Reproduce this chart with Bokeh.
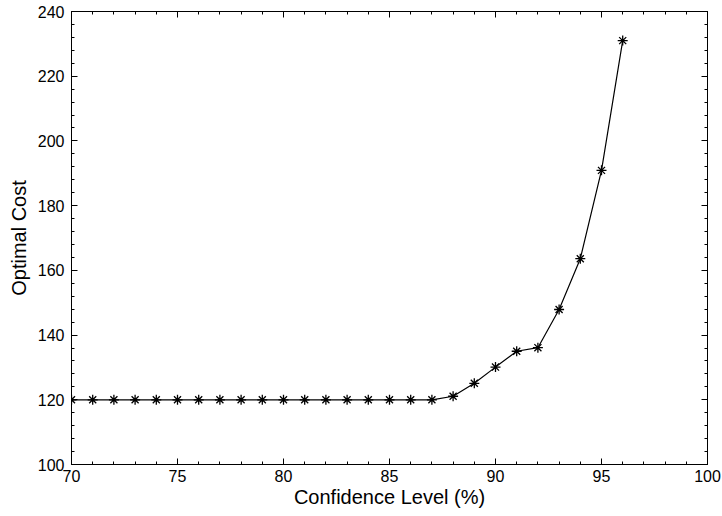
from bokeh.plotting import figure
from bokeh.models import Range1d, LinearAxis, SingleIntervalTicker
from bokeh.embed import file_html
from bokeh.resources import INLINE

confidence = [70, 71, 72, 73, 74, 75, 76, 77, 78, 79, 80, 81, 82, 83, 84, 85, 86, 87,
              88, 89, 90, 91, 92, 93, 94, 95, 96]
optimal_cost = [120, 120, 120, 120, 120, 120, 120, 120, 120, 120, 120, 120, 120, 120, 120, 120, 120, 120,
                121.1, 125.1, 130.1, 135.0, 136.1, 147.9, 163.6, 190.9, 231.0]

FONT = "Liberation Sans"

p = figure(width=722, height=516, output_backend="svg", toolbar_location=None,
           x_range=Range1d(70, 100), y_range=Range1d(100, 240),
           min_border_left=71, min_border_right=15, min_border_top=11, min_border_bottom=52,
           x_axis_label="Confidence Level (%)", y_axis_label="Optimal Cost")
p.grid.visible = False
p.outline_line_color = "black"
p.outline_line_width = 1
p.background_fill_color = "white"
p.border_fill_color = "white"

p.xaxis.ticker = SingleIntervalTicker(interval=5, num_minor_ticks=5)
p.yaxis.ticker = SingleIntervalTicker(interval=20, num_minor_ticks=5)

def style(ax, labels=True):
    ax.axis_line_color = "black"
    ax.axis_line_width = 1
    ax.major_tick_in = 6
    ax.major_tick_out = 0
    ax.minor_tick_in = 3
    ax.minor_tick_out = 0
    ax.major_tick_line_color = "black"
    ax.minor_tick_line_color = "black"
    ax.major_label_text_font = FONT
    ax.axis_label_text_font = FONT
    ax.axis_label_text_font_style = "normal"
    ax.axis_label_text_font_size = "20px"
    ax.axis_label_text_color = "black"
    if labels:
        ax.major_label_text_font_size = "16px"
        ax.major_label_text_color = "black"
    else:
        ax.major_label_text_font_size = "1px"
        ax.major_label_text_color = None
        ax.major_label_standoff = 0

for ax in p.xaxis + p.yaxis:
    style(ax)
p.xaxis.major_label_standoff = 5
p.yaxis.major_label_standoff = 7
p.xaxis.axis_label_standoff = 1
p.yaxis.axis_label_standoff = 5

top = LinearAxis(ticker=SingleIntervalTicker(interval=5, num_minor_ticks=5))
right = LinearAxis(ticker=SingleIntervalTicker(interval=20, num_minor_ticks=5))
style(top, labels=False)
style(right, labels=False)
p.add_layout(top, "above")
p.add_layout(right, "right")

p.line(confidence, optimal_cost, line_color="black", line_width=1.2)
p.scatter(confidence, optimal_cost, marker="asterisk", size=10, line_color="black", line_width=1.3)

open("out.html", "w").write(file_html(p, INLINE))
